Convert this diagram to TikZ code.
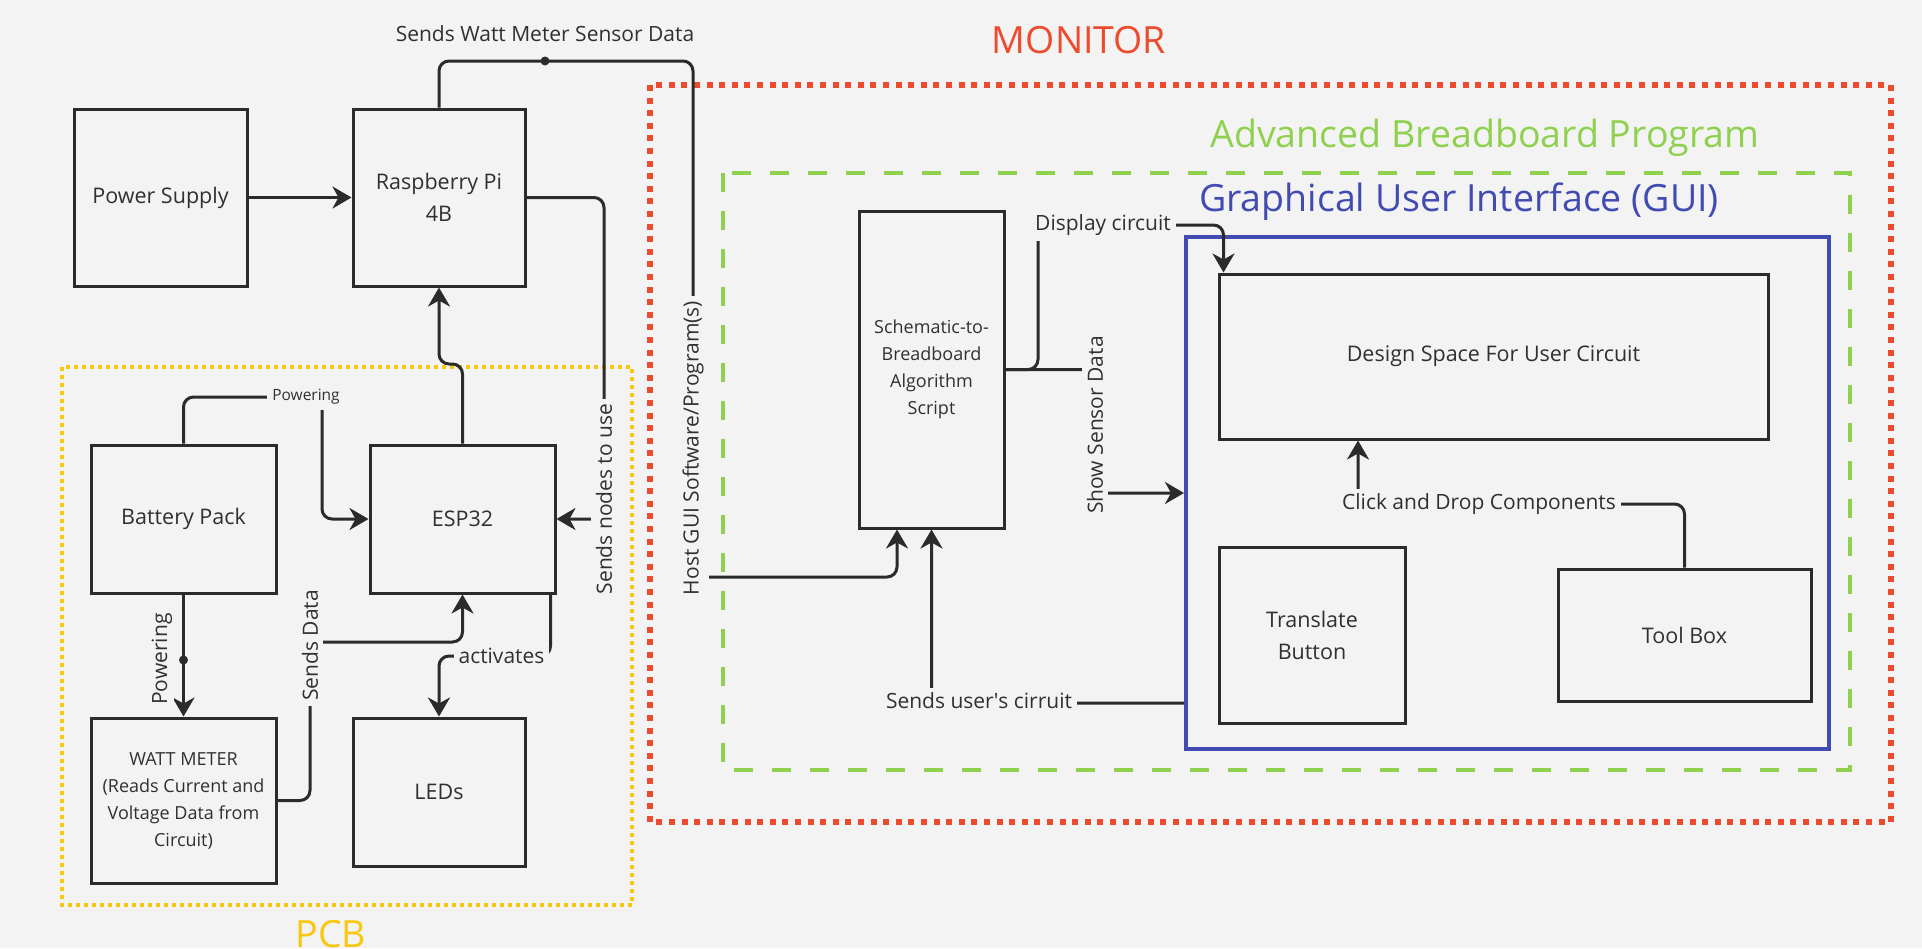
\documentclass[tikz,border=0pt]{standalone}
\usepackage{fontspec}
\setmainfont{Open Sans}
\usetikzlibrary{arrows.meta}

\definecolor{bg}{RGB}{243,243,243}
\definecolor{ink}{RGB}{43,43,43}
\definecolor{txt}{RGB}{48,48,48}
\definecolor{monred}{RGB}{237,75,45}
\definecolor{proggreen}{RGB}{143,209,79}
\definecolor{guiblue}{RGB}{65,75,178}
\definecolor{pcbyellow}{RGB}{250,199,16}

\tikzset{
  box/.style={draw=ink, line width=3pt, fill=bg, text=txt, align=center,
    inner sep=0pt, font=\fontsize{21.5}{32}\selectfont},
  smallbox/.style={box, font=\fontsize{18}{27}\selectfont},
  lbl/.style={fill=bg, text=txt, inner sep=5pt, font=\fontsize{21}{26}\selectfont},
  tinylbl/.style={lbl, font=\fontsize{15.5}{19}\selectfont},
  wire/.style={draw=ink, line width=3pt, rounded corners=10pt},
  arr/.style={wire, -{Stealth[length=19pt,width=22pt,inset=6pt]}},
  title/.style={inner sep=0pt, anchor=base, font=\fontsize{37.5}{45}\selectfont},
  pcbzone/.style={draw=pcbyellow, line width=4pt, dash pattern=on 4pt off 4pt},
  monzone/.style={draw=monred, line width=6pt, dash pattern=on 6pt off 6.6pt},
  progzone/.style={draw=proggreen, line width=4.5pt, dash pattern=on 19pt off 19pt},
  guizone/.style={draw=guiblue, line width=4pt, inner sep=0pt}
}

\begin{document}
\begin{tikzpicture}[x=1pt,y=-1pt]
  \fill[bg] (0,0) rectangle (1922,948);
  \useasboundingbox (0,0) rectangle (1922,948);

  % zones
  \draw[pcbzone] (62,367) rectangle (632,905);
  \draw[monzone] (650,85) rectangle (1891,822);
  \draw[progzone] (723,173) rectangle (1850,770);
  \node[guizone, minimum width=643pt, minimum height=512pt] (gui) at (1507.5,493) {};

  \node[title, text=monred] at (1079,53) {MONITOR};
  \node[title, text=proggreen] at (1485,147) {Advanced Breadboard Program};
  \node[title, text=guiblue] at (1459,211) {Graphical User Interface (GUI)};
  \node[title, text=pcbyellow] at (331,947) {PCB};

  % hardware side
  \node[box, minimum width=173pt, minimum height=177pt] (psu) at (160.5,197.5) {Power Supply};
  \node[box, minimum width=172pt, minimum height=177pt] (pi) at (439,197.5) {Raspberry Pi\\4B};
  \node[box, minimum width=185pt, minimum height=148pt] (bat) at (183.5,519) {Battery Pack};
  \node[box, minimum width=185pt, minimum height=148pt] (esp) at (462.5,519) {ESP32};
  \node[smallbox, minimum width=185pt, minimum height=165pt] (watt) at (183.5,800.5)
    {WATT METER\\(Reads Current and\\Voltage Data from\\Circuit)};
  \node[box, minimum width=172pt, minimum height=148pt] (leds) at (439,792) {LEDs};

  % software side
  \node[smallbox, minimum width=145pt, minimum height=317pt] (algo) at (931.5,369.5)
    {Schematic-to-\\Breadboard\\Algorithm\\Script};
  \node[box, minimum width=549pt, minimum height=165pt] (design) at (1493.5,356.5)
    {Design Space For User Circuit};
  \node[box, minimum width=186pt, minimum height=176pt] (translate) at (1312,635) {Translate\\Button};
  \node[box, minimum width=253pt, minimum height=132pt] (toolbox) at (1684.5,635) {Tool Box};

  % bends
  \coordinate (wattDot) at (545,61);
  \coordinate (hostTop) at (693,61);
  \coordinate (hostBend) at (897,577);
  \coordinate (nodesBend) at (604,197.5);
  \coordinate (jog) at (439,364);
  \coordinate (powTop) at (322,397);
  \coordinate (powDot) at (183.5,660);
  \coordinate (dataBend) at (310,642);
  \coordinate (actBend) at (439,656);
  \coordinate (dispTop) at (1038,225);
  \coordinate (showBend) at (1095,493);
  \coordinate (clickBend) at (1358,504);

  % connectors
  \draw[arr] (psu) -- (pi);
  \draw[arr] (esp.north) |- (jog) -- (pi.south);
  \draw[arr] (pi.east) -- (nodesBend) |- (esp.east);
  \draw[arr] (pi.north) |- (hostTop) |- (hostBend) -- (hostBend |- algo.south);
  \draw[arr] (bat.north) |- (powTop) |- (esp.west);
  \draw[arr] (bat.south) -- (watt.north);
  \draw[arr] (watt.east) -| (dataBend) -| (esp.south);
  \draw[arr] ([xshift=-6pt]esp.south east) |- (actBend) -- (leds.north);
  \draw[arr] (algo.east) -| (dispTop) -| ([xshift=6pt]design.north west);
  \draw[arr] (algo.east) -| (showBend) -- (gui.west);
  \draw[arr] ([yshift=48pt]gui.south west) -| (algo.south);
  \draw[arr] (toolbox.north) |- (clickBend) -- (clickBend |- design.south);
  \fill[ink] (wattDot) circle (4.5pt);
  \fill[ink] (powDot) circle (4.5pt);

  % labels
  \node[lbl] (wattLbl) at (545,34) {Sends Watt Meter Sensor Data};
  \node[lbl, rotate=90] (hostLbl) at (693,448) {Host GUI Software/Program(s)};
  \node[lbl, rotate=90] (nodesLbl) at (604,499) {Sends nodes to use};
  \node[tinylbl] (powLbl) at (306,397) {Powering};
  \node[lbl, rotate=90, inner sep=2pt] (powSideLbl) at (162,659) {Powering};
  \node[lbl, rotate=90] (dataLbl) at (310,645.5) {Sends Data};
  \node[lbl] (actLbl) at (501.5,656) {activates};
  \node[lbl] (dispLbl) at (1103,225) {Display circuit};
  \node[lbl, rotate=90] (showLbl) at (1095,425) {Show Sensor Data};
  \node[lbl] (userLbl) at (979,701) {Sends user\textquotesingle s cirruit};
  \node[lbl] (clickLbl) at (1479,504) {Click and Drop Components};
\end{tikzpicture}
\end{document}
